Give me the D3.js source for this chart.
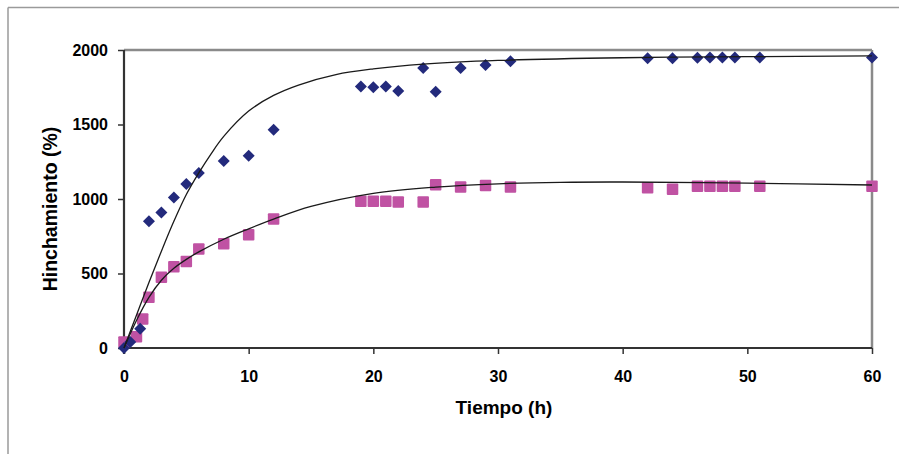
<!DOCTYPE html>
<html>
<head>
<meta charset="utf-8">
<script src="https://cdn.jsdelivr.net/npm/d3@7"></script>
<style>
  html, body { margin: 0; padding: 0; background: #fff; }
  svg { display: block; }
  text { font-family: "Liberation Sans", Arial, sans-serif; font-weight: bold; fill: #000; }
</style>
</head>
<body>
<svg id="chart" width="899" height="454"></svg>
<script>
// ---- data ----
const xTicks = [0, 10, 20, 30, 40, 50, 60];
const yTicks = [0, 500, 1000, 1500, 2000];

// series 1 (diamonds)
const blueT = [0, 0.5, 1.3, 2, 3, 4, 5, 6, 8, 10, 12, 19, 20, 21, 22, 24, 25, 27, 29, 31, 42, 44, 46, 47, 48, 49, 51, 60];
const blueY = [0, 40, 130, 850, 910, 1010, 1100, 1175, 1255, 1290, 1465, 1755, 1750, 1755, 1725, 1880, 1720, 1880, 1900, 1925, 1945, 1945, 1948, 1950, 1950, 1950, 1950, 1950];

// series 2 (squares)
const pinkT = [0, 1, 1.5, 2, 3, 4, 5, 6, 8, 10, 12, 19, 20, 21, 22, 24, 25, 27, 29, 31, 42, 44, 46, 47, 48, 49, 51, 60];
const pinkY = [40, 75, 195, 340, 475, 545, 580, 665, 700, 760, 865, 985, 985, 985, 980, 980, 1095, 1080, 1090, 1080, 1075, 1065, 1085, 1085, 1085, 1085, 1085, 1085];

// fitted curves
const blueFitT = [0, 1, 2, 3, 4, 5, 6, 7, 8, 10, 12, 14, 17, 20, 24, 30, 40, 50, 60];
const blueFitY = [0, 220, 440, 650, 850, 1030, 1175, 1305, 1420, 1590, 1695, 1765, 1835, 1873, 1905, 1930, 1948, 1955, 1960];
const pinkFitT = [0, 1, 2, 3, 4, 5, 6, 8, 10, 12, 15, 20, 25, 30, 35, 40, 50, 60];
const pinkFitY = [0, 185, 340, 455, 535, 595, 645, 730, 800, 865, 950, 1038, 1080, 1102, 1112, 1114, 1106, 1094];

const xTitle = "Tiempo (h)";
const yTitle = "Hinchamiento (%)";

// ---- layout ----
const svg = d3.select("#chart");
const L = 124, R = 872, T = 50, B = 348;
const x = d3.scaleLinear().domain([0, 60]).range([L, R]);
const y = d3.scaleLinear().domain([0, 2000]).range([B, T]);

// outer frame (top & left)
svg.append("line").attr("x1", 8).attr("x2", 899).attr("y1", 7.5).attr("y2", 7.5)
  .attr("stroke", "#9a9a9a").attr("stroke-width", 1.5);
svg.append("line").attr("x1", 8).attr("x2", 8).attr("y1", 7.5).attr("y2", 454)
  .attr("stroke", "#9a9a9a").attr("stroke-width", 1.5);

// plot border top & right
svg.append("line").attr("x1", L).attr("x2", R).attr("y1", T).attr("y2", T)
  .attr("stroke", "#8a8a8a").attr("stroke-width", 2.5);
svg.append("line").attr("x1", R).attr("x2", R).attr("y1", T).attr("y2", B)
  .attr("stroke", "#8a8a8a").attr("stroke-width", 2.5);

// axes
const xAxis = d3.axisBottom(x).tickValues(xTicks).tickSize(6).tickPadding(17).tickFormat(d3.format("d"));
const yAxis = d3.axisLeft(y).tickValues(yTicks).tickSize(6).tickPadding(10).tickFormat(d3.format("d"));

const gx = svg.append("g").attr("transform", `translate(0,${B})`).call(xAxis);
const gy = svg.append("g").attr("transform", `translate(${L},0)`).call(yAxis);
[gx, gy].forEach(g => {
  g.select(".domain").attr("stroke", "#333").attr("stroke-width", 2.2);
  g.selectAll(".tick line").attr("stroke", "#333").attr("stroke-width", 1.5);
  g.selectAll(".tick text").style("font-size", "16px").style("font-family", "'Liberation Sans', Arial, sans-serif")
    .style("font-weight", "bold").attr("fill", "#000");
});
gx.select(".domain").attr("d", `M${L},0H${R}`);
gy.select(".domain").attr("d", `M0,${B + 6}V${T}`);

// markers
svg.append("g").selectAll("rect").data(pinkT.map((t, i) => [t, pinkY[i]])).join("rect")
  .attr("x", d => x(d[0]) - 5.75).attr("y", d => y(d[1]) - 5.75)
  .attr("width", 11.5).attr("height", 11.5).attr("rx", 1)
  .attr("fill", "#c052a3");
svg.append("g").selectAll("path").data(blueT.map((t, i) => [t, blueY[i]])).join("path")
  .attr("d", d3.symbol().type(d3.symbolSquare).size(72))
  .attr("transform", d => `translate(${x(d[0])},${y(d[1])}) rotate(45)`)
  .attr("fill", "#232a7c");

// fitted curves
const line = d3.line().x(d => x(d[0])).y(d => y(d[1])).curve(d3.curveCatmullRom.alpha(0.5));
svg.append("path").datum(blueFitT.map((t, i) => [t, blueFitY[i]])).attr("d", line)
  .attr("fill", "none").attr("stroke", "#1a1a1a").attr("stroke-width", 1.3);
svg.append("path").datum(pinkFitT.map((t, i) => [t, pinkFitY[i]])).attr("d", line)
  .attr("fill", "none").attr("stroke", "#1a1a1a").attr("stroke-width", 1.3);

// titles
svg.append("text").attr("x", 504).attr("y", 414).attr("text-anchor", "middle")
  .style("font-size", "19px").text(xTitle);
svg.append("text").attr("transform", "translate(57,209) rotate(-90)").attr("text-anchor", "middle")
  .style("font-size", "19.5px").text(yTitle);
</script>
</body>
</html>
